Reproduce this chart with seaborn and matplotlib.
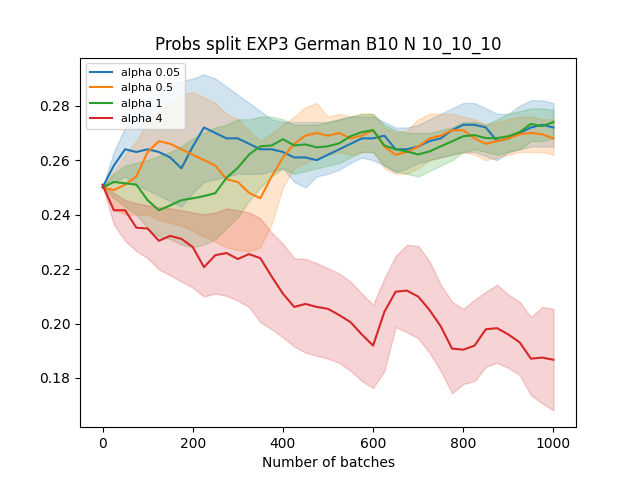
import numpy as np
import pandas as pd
import matplotlib
matplotlib.use("Agg")
import matplotlib.pyplot as plt
import seaborn as sns

batches = list(range(0, 1001, 25))

labels = ["alpha 0.05", "alpha 0.5", "alpha 1", "alpha 4"]

blue_mean = [0.250, 0.258, 0.264, 0.263, 0.264, 0.263, 0.261, 0.257, 0.265, 0.272,
             0.270, 0.268, 0.268, 0.266, 0.264, 0.264, 0.263, 0.261, 0.261, 0.260,
             0.262, 0.264, 0.266, 0.268, 0.268, 0.269, 0.264, 0.264, 0.265, 0.267,
             0.268, 0.271, 0.273, 0.273, 0.272, 0.267, 0.268, 0.270, 0.272, 0.273, 0.272]
blue_lo = [0.250, 0.252, 0.254, 0.251, 0.249, 0.247, 0.245, 0.243, 0.248, 0.252,
           0.253, 0.254, 0.255, 0.255, 0.255, 0.256, 0.257, 0.252, 0.250, 0.254,
           0.255, 0.2565, 0.259, 0.261, 0.260, 0.258, 0.2555, 0.257, 0.259, 0.260,
           0.261, 0.262, 0.263, 0.263, 0.2615, 0.260, 0.263, 0.264, 0.265, 0.265, 0.265]
blue_hi = [0.250, 0.263, 0.272, 0.279, 0.283, 0.286, 0.288, 0.289, 0.290, 0.2915,
           0.290, 0.287, 0.284, 0.281, 0.278, 0.275, 0.274, 0.274, 0.274, 0.274,
           0.274, 0.275, 0.276, 0.276, 0.276, 0.274, 0.272, 0.272, 0.273, 0.275,
           0.277, 0.279, 0.281, 0.281, 0.279, 0.277, 0.277, 0.280, 0.282, 0.282, 0.281]

orange_mean = [0.250, 0.249, 0.251, 0.254, 0.263, 0.267, 0.266, 0.264, 0.262, 0.260,
               0.258, 0.253, 0.252, 0.248, 0.246, 0.254, 0.261, 0.266, 0.269, 0.270,
               0.269, 0.270, 0.268, 0.269, 0.271, 0.265, 0.262, 0.263, 0.265, 0.268,
               0.269, 0.271, 0.271, 0.268, 0.266, 0.267, 0.268, 0.2695, 0.270, 0.2695, 0.268]
orange_lo = [0.250, 0.242, 0.240, 0.240, 0.240, 0.238, 0.237, 0.236, 0.234, 0.232,
             0.230, 0.228, 0.227, 0.2265, 0.228, 0.2365, 0.250, 0.257, 0.259, 0.261,
             0.262, 0.263, 0.262, 0.263, 0.263, 0.257, 0.255, 0.255, 0.257, 0.260,
             0.261, 0.262, 0.263, 0.262, 0.260, 0.261, 0.262, 0.263, 0.263, 0.263, 0.262]
orange_hi = [0.250, 0.256, 0.262, 0.267, 0.274, 0.278, 0.281, 0.284, 0.285, 0.283,
             0.281, 0.277, 0.275, 0.271, 0.267, 0.270, 0.273, 0.276, 0.2795, 0.281,
             0.276, 0.277, 0.276, 0.277, 0.277, 0.272, 0.270, 0.271, 0.275, 0.277,
             0.277, 0.277, 0.276, 0.275, 0.273, 0.274, 0.275, 0.276, 0.276, 0.275, 0.275]

green_mean = [0.250, 0.252, 0.2515, 0.251, 0.2453, 0.2416, 0.2434, 0.2453, 0.246, 0.2468,
              0.2479, 0.2535, 0.2572, 0.2621, 0.2651, 0.2654, 0.2677, 0.2654, 0.2658, 0.2647,
              0.2651, 0.2662, 0.2688, 0.2703, 0.271, 0.2654, 0.264, 0.2632, 0.2621, 0.2632,
              0.2651, 0.2669, 0.2688, 0.2692, 0.2681, 0.2681, 0.2688, 0.2703, 0.2733, 0.2725, 0.274]
green_lo = [0.250, 0.246, 0.243, 0.240, 0.235, 0.232, 0.231, 0.229, 0.228, 0.229,
            0.231, 0.235, 0.239, 0.245, 0.250, 0.254, 0.257, 0.255, 0.256, 0.257,
            0.258, 0.259, 0.261, 0.263, 0.263, 0.258, 0.256, 0.255, 0.254, 0.256,
            0.258, 0.260, 0.263, 0.264, 0.263, 0.262, 0.263, 0.264, 0.267, 0.267, 0.268]
green_hi = [0.250, 0.255, 0.258, 0.259, 0.260, 0.2615, 0.263, 0.265, 0.268, 0.270,
            0.272, 0.273, 0.275, 0.275, 0.276, 0.276, 0.275, 0.273, 0.273, 0.273,
            0.274, 0.275, 0.276, 0.277, 0.277, 0.273, 0.271, 0.270, 0.270, 0.270,
            0.271, 0.272, 0.274, 0.274, 0.273, 0.275, 0.277, 0.278, 0.279, 0.279, 0.2785]

red_mean = [0.251, 0.2416, 0.2416, 0.2352, 0.2349, 0.2304, 0.2322, 0.2311, 0.2281, 0.2207,
            0.2251, 0.2259, 0.2237, 0.2255, 0.224, 0.2173, 0.211, 0.2061, 0.2072, 0.2061,
            0.2054, 0.2031, 0.2005, 0.196, 0.1919, 0.2043, 0.2117, 0.2121, 0.2099, 0.205,
            0.199, 0.1908, 0.1904, 0.1919, 0.1979, 0.1983, 0.196, 0.1931, 0.1871, 0.1875, 0.1867]
red_lo = [0.2505, 0.2363, 0.2304, 0.2266, 0.224, 0.2199, 0.2177, 0.2154, 0.2132, 0.2099,
          0.211, 0.2102, 0.2084, 0.2061, 0.2005, 0.1979, 0.1949, 0.1916, 0.1893, 0.1882,
          0.1871, 0.1856, 0.1826, 0.1789, 0.1763, 0.1826, 0.1987, 0.1968, 0.1946, 0.1893,
          0.1826, 0.1744, 0.1778, 0.1789, 0.1841, 0.1856, 0.1837, 0.1811, 0.1737, 0.1707, 0.1681]
red_hi = [0.2505, 0.2479, 0.2453, 0.2442, 0.2434, 0.2427, 0.2423, 0.2416, 0.2408, 0.2401,
          0.2408, 0.2423, 0.2416, 0.2408, 0.2386, 0.2334, 0.2293, 0.224, 0.2237, 0.2222,
          0.2203, 0.2184, 0.2154, 0.211, 0.2069, 0.2166, 0.2248, 0.2289, 0.2285, 0.2229,
          0.2143, 0.208, 0.2054, 0.2087, 0.2117, 0.2143, 0.2106, 0.208, 0.2024, 0.2061, 0.2054]

series = [
    (blue_mean, blue_lo, blue_hi),
    (orange_mean, orange_lo, orange_hi),
    (green_mean, green_lo, green_hi),
    (red_mean, red_lo, red_hi),
]
colors = sns.color_palette("tab10", 4)

fig, ax = plt.subplots(figsize=(6.4, 4.8), dpi=100)
for (m, lo, hi), lab, c in zip(series, labels, colors):
    df = pd.DataFrame({"batch": batches, "value": m})
    sns.lineplot(data=df, x="batch", y="value", ax=ax, color=c, label=lab, linewidth=1.5)
    ax.fill_between(batches, lo, hi, color=c, alpha=0.2)

ax.set_title("Probs split EXP3 German B10 N 10_10_10")
ax.set_xlabel("Number of batches")
ax.set_ylabel("")
ax.legend(loc="upper left", fontsize=8)
fig.savefig("out.png", dpi=100)
